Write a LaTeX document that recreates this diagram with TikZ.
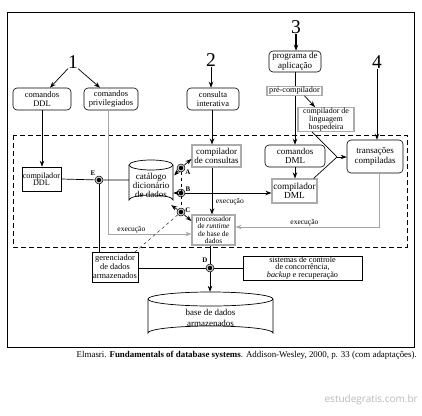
\documentclass[tikz,border=0pt]{standalone}
\usepackage{fontspec}
\setmainfont{Liberation Serif}
\newfontfamily\wmfont{Open Sans}
\usetikzlibrary{arrows.meta,calc}
\newcommand{\fs}[2]{\fontsize{#1}{#2}\selectfont}
\tikzset{
  box/.style={draw, rectangle, inner sep=0pt, align=center, line width=0.6pt},
  rbox/.style={box, rounded corners=4pt},
  gbox/.style={box, draw=gray!65, line width=1.1pt},
  num/.style={font=\fs{19.5}{20}, inner sep=0pt},
  arr/.style={-{Stealth[length=6pt,width=4.5pt]}, line width=0.7pt},
  garr/.style={-{Stealth[length=6pt,width=4.5pt]}, draw=gray!70, line width=1pt},
  ln/.style={line width=0.7pt},
  lab/.style={font=\fs{7.5}{8}, inner sep=0.5pt},
  ptl/.style={font=\fs{7}{7}\bfseries, inner sep=0pt},
  dotm/.style={circle, draw=black, fill=gray!45, line width=0.5pt, minimum size=8pt, inner sep=0pt,
    path picture={\fill[black] (path picture bounding box.center) circle (2.2pt);}},
}
\begin{document}
\begin{tikzpicture}[x=1pt,y=-1pt]
\useasboundingbox (0,0) rectangle (422,415);
% frames
\draw[line width=0.8pt] (7,12) rectangle (414,347);
\draw[dashed, line width=0.8pt, dash pattern=on 5pt off 3pt] (13,135) rectangle (407,247);
% numbers
\node[num] (n1) at (73,62) {1};
\node[num] (n2) at (211,60) {2};
\node[num] (n3) at (296,27) {3};
\node[num] (n4) at (377,62) {4};
% boxes top
\node[rbox, minimum width=58pt, minimum height=22pt, font=\fs{8.5}{8.6}] (cmdDDL) at (42,99) {comandos\\DDL};
\node[rbox, minimum width=54pt, minimum height=22pt, font=\fs{8.5}{9.6}] (cmdPriv) at (111,99) {comandos\\privilegiados};
\node[rbox, minimum width=52pt, minimum height=22pt, font=\fs{8.5}{9.3}] (ci) at (213,99) {consulta\\interativa};
\node[rbox, minimum width=52pt, minimum height=21pt, font=\fs{9}{10}] (prog) at (295,61.5) {programa de\\aplicação};
\node[gbox, minimum width=55pt, minimum height=8.5pt, font=\fs{8.2}{8}] (pre) at (294.5,91) {pré-compilador};
\node[gbox, minimum width=56pt, minimum height=23pt, font=\fs{8}{6}] (hosp) at (326,119.5) {compilador de\\linguagem\\hospedeira};
% inside
\node[box, minimum width=39pt, minimum height=24pt, font=\fs{8.2}{7.5}] (compDDL) at (41.5,179) {compilador\\DDL};
\node[gbox, minimum width=49pt, minimum height=22pt, font=\fs{9}{9.6}] (cc) at (216.5,156) {compilador\\de consultas};
\node[rbox, minimum width=60pt, minimum height=22pt, font=\fs{9}{9.3}] (cdmlc) at (295,156) {comandos\\DML};
\node[gbox, minimum width=45pt, minimum height=24pt, font=\fs{9.3}{9.3}] (cdml) at (294.5,191) {compilador\\DML};
\node[rbox, minimum width=56pt, minimum height=33pt, font=\fs{9}{9.4}] (tc) at (375,156.5) {transações\\compiladas};
\node[gbox, minimum width=43pt, minimum height=30pt, font=\fs{7.4}{7.3}] (proc) at (213.5,230) {processador\\de \emph{runtime}\\de base de\\dados};
% catalog cylinder
\node[minimum width=44pt, minimum height=45pt, inner sep=0pt] (cat) at (151,182.5) {};
\draw[ln] (129,165) -- (129,200) arc[start angle=180, end angle=360, x radius=22, y radius=5] -- (173,165);
\draw[ln] (151,165) ellipse [x radius=22, y radius=5];
\node[inner sep=0pt, font=\fs{9}{8.9}, align=center] (catText) at (151,185.5) {catálogo\\dicionário\\de dados};
% bottom
\node[box, minimum width=46pt, minimum height=30pt, font=\fs{8.4}{9}] (ger) at (115,267) {gerenciador\\de dados\\armazenados};
\node[box, minimum width=119pt, minimum height=24pt, font=\fs{8.2}{6.8}] (sis) at (302.5,268) {sistemas de controle\\de concorrência,\\\emph{backup} e recuperação};
\node[minimum width=125pt, minimum height=48pt, inner sep=0pt] (base) at (210.5,316) {};
\draw[ln] (148,299) -- (148,333) arc[start angle=180, end angle=360, x radius=62.5, y radius=7] -- (273,299);
\draw[ln] (210.5,299) ellipse [x radius=62.5, y radius=7];
\node[inner sep=0pt, font=\fs{9}{11.5}, align=center] (baseText) at (210.5,318) {base de dados\\armazenados};
% points
\node[dotm] (E) at (99,180) {};
\node[dotm] (A) at (181,168) {};
\node[dotm] (B) at (181,193) {};
\node[dotm] (C) at (181,212) {};
\node[dotm] (D) at (210,268) {};
\node[ptl] at (93,173) {E};
\node[ptl] at (188,172) {A};
\node[ptl] at (188,189) {B};
\node[ptl] at (188,210) {C};
\node[ptl] at (205,260) {D};
% connectors top
\draw[arr] (n1.south west) -- ($(cmdDDL.north)+(8,0)$);
\draw[arr] (n1.south east) -- ($(cmdPriv.north)+(-11,0)$);
\draw[arr] (n2.south) -- (n2.south |- ci.north);
\draw[arr, line width=1.2pt] (n3.south) -- (n3.south |- prog.north);
\draw[arr] (n4.south) -- (n4.south |- tc.north);
\draw[arr] (cmdDDL.south) -- (cmdDDL.south |- compDDL.north);
\draw[ln] (prog.south) -- (prog.south |- pre.north);
\draw[arr] (prog.south |- pre.south) -- (prog.south |- cdmlc.north);
\draw[arr] ($(pre.south)+(10,0)$) -- ($(hosp.north)+(-11,0)$);
\draw[arr] (cdmlc.south) -- (cdmlc.south |- cdml.north);
\coordinate (M) at (337,157);
\draw[ln] ($(hosp.south)+(-14,0)$) -- (M);
\draw[ln] ($(cdml.north east)+(-4,0)$) -- (M);
\draw[arr] (M) -- (tc.west |- M);
% consultas
\draw[arr] ($(ci.south)+(-1,0)$) -- ($(ci.south |- cc.north)+(-1,0)$);
\draw[arr] ($(ci.south |- cc.south)+(-1,0)$) -- node[lab, right, pos=0.74, xshift=3pt] {execução} ($(ci.south |- proc.north)+(-1,0)$);
% privileged
\draw[garr] ($(cmdPriv.south)+(-3,0)$) |- node[lab, above, pos=0.64] {execução} ($(proc.west)+(0,4)$);
% transacoes
\draw[garr] ($(tc.south)+(4,0)$) |- node[lab, above, pos=0.76] {execução} ($(proc.east)+(0,-3)$);
% E
\draw[ln] (compDDL.east) -- (E) -- (cat.west |- E);
\draw[ln] (E) -- (E |- ger.north);
% A B C
\draw[dashed, line width=0.4pt] (A) -- (C);
\draw[arr] (A) -- ($(cat.east)+(1,-7)$);
\draw[arr] (A) -- ($(cc.west)+(0,3)$);
\draw[arr] (B) -- (cat.east |- B);
\draw[arr] (B) -- (cdml.west |- B);
\draw[arr] (C) -- ($(cat.south east)+(-2,0)$);
\draw[arr] (C) -- ($(proc.west)+(0,-9)$);
\draw[dashed, line width=0.4pt] (C) -- ($(ger.north east)+(-3,0)$);
% D
\draw[ln] (D |- proc.south) -- (D);
\draw[arr] (D) -- (D |- base.north);
\draw[ln] (ger.east |- D) -- (D) -- (sis.west |- D);
% caption
\node[anchor=east, inner sep=0pt, font=\fs{8.9}{9}] (cap) at (417,355.5) {Elmasri. \textbf{Fundamentals of database systems}. Addison-Wesley, 2000, p. 33 (com adaptações).};
\node[anchor=east, inner sep=0pt, font=\wmfont\fs{10}{10}, text=gray!55] (wm) at (418,400) {estudegratis.com.br};
\end{tikzpicture}
\end{document}
